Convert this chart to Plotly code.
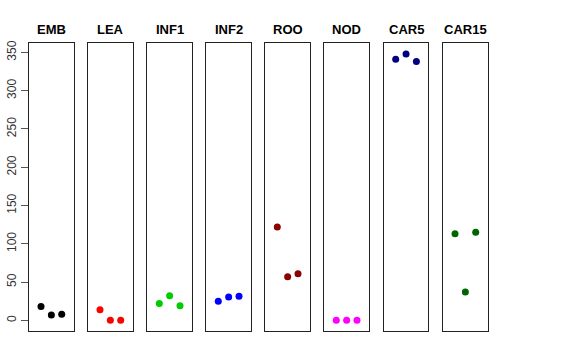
import plotly.graph_objects as go

panels = ["EMB", "LEA", "INF1", "INF2", "ROO", "NOD", "CAR5", "CAR15"]
colors = ["#000000", "#FF0000", "#00CD00", "#0000FF", "#8B0000", "#FF00FF", "#000080", "#006400"]
values = {
    "EMB": [18, 7, 8],
    "LEA": [14, 0, 0],
    "INF1": [22, 32, 19],
    "INF2": [25, 30.5, 31.5],
    "ROO": [122, 57, 61],
    "NOD": [0, 0, 0],
    "CAR5": [341, 348, 338],
    "CAR15": [113, 37, 115],
}
reps = [1, 2, 3]
yticks = [0, 50, 100, 150, 200, 250, 300, 350]

W, H = 576, 360
lefts = [29, 88, 147.3, 206.3, 265.3, 324.3, 383.7, 443]
pw = 44.7
ytop, ybot = 43.3, 331

fig = go.Figure()
for i, (name, col) in enumerate(zip(panels, colors)):
    n = i + 1
    xa = "x" if n == 1 else f"x{n}"
    ya = "y" if n == 1 else f"y{n}"
    fig.add_trace(go.Scatter(x=reps, y=values[name], mode="markers",
                             marker=dict(color=col, size=7, line=dict(width=0)),
                             xaxis=xa, yaxis=ya, showlegend=False, hoverinfo="skip"))
    l = lefts[i]
    dom = [l / W, (l + pw) / W]
    xkey = "xaxis" if n == 1 else f"xaxis{n}"
    ykey = "yaxis" if n == 1 else f"yaxis{n}"
    fig.layout[xkey] = dict(domain=dom, range=[-0.16, 4.16], showgrid=False, zeroline=False,
                            showticklabels=False, ticks="", showline=True, mirror=True,
                            linecolor="#222", linewidth=1, anchor=ya, fixedrange=True)
    ycfg = dict(domain=[(H - ybot) / H, (H - ytop) / H], range=[-13.9, 361.9],
                showgrid=False, zeroline=False, showline=True, mirror=True, linecolor="#222",
                linewidth=1, anchor=xa, automargin=False, fixedrange=True)
    if n == 1:
        ycfg.update(tickvals=yticks, ticks="outside", ticklen=7, tickcolor="#555",
                    tickangle=-90, tickfont=dict(size=12, color="#333",
                                                 family="Liberation Sans, Arial, sans-serif"))
    else:
        ycfg.update(showticklabels=False, ticks="")
    fig.layout[ykey] = ycfg
    fig.add_annotation(x=(l + pw / 2) / W, y=1 - 29.3 / H, xref="paper", yref="paper",
                       text=f"<b>{name}</b>", showarrow=False, xanchor="center", yanchor="middle",
                       font=dict(size=13, color="#000", family="Liberation Sans, Arial, sans-serif"))

fig.update_layout(width=W, height=H, margin=dict(l=0, r=0, t=0, b=0),
                  paper_bgcolor="white", plot_bgcolor="white")
fig.write_html("out.html", config={"displayModeBar": False},
               post_script="document.body.style.margin='0';document.body.style.overflow='hidden';")
